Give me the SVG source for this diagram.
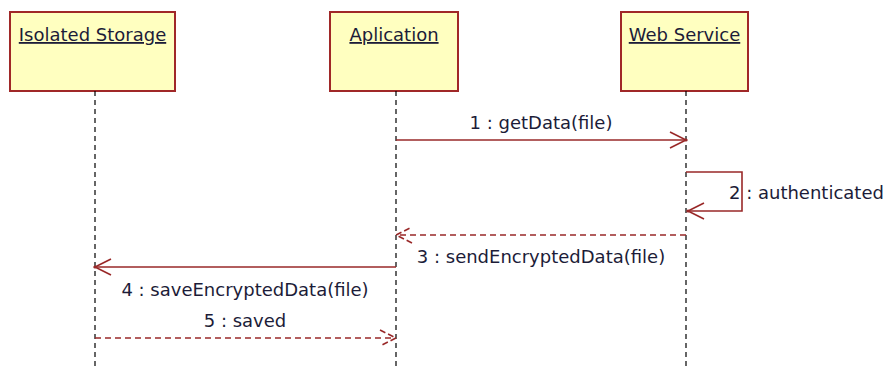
<svg xmlns="http://www.w3.org/2000/svg" width="884" height="370" viewBox="0 0 884 370">
<style>
.box{fill:#FFFFC0;stroke:#A02828;stroke-width:2}
.life{stroke:#000;stroke-width:1.2;stroke-dasharray:5 4;fill:none}
.title{font-family:"DejaVu Sans",sans-serif;font-size:18px;fill:#1c1c38;text-anchor:middle;text-decoration:underline}
.lbl{font-family:"DejaVu Sans",sans-serif;font-size:18px;fill:#1c1c38;text-anchor:middle}
.msg{stroke:#992828;stroke-width:1.6;fill:none}
.dash{stroke-dasharray:6 4}
</style>
<defs>
<marker id="open" viewBox="-18 -10 20 20" refX="0" refY="0" markerWidth="20" markerHeight="20" markerUnits="userSpaceOnUse" orient="auto">
<path d="M-16,-8 L0,0 L-16,8" fill="none" stroke="#992828" stroke-width="1.6"/>
<circle cx="0" cy="0" r="1.6" fill="#992828"/>
</marker>
<marker id="opend" viewBox="-18 -10 20 20" refX="0" refY="0" markerWidth="20" markerHeight="20" markerUnits="userSpaceOnUse" orient="auto">
<path d="M-16,-8 L0,0 L-16,8" fill="none" stroke="#992828" stroke-width="1.6" stroke-dasharray="6 3"/>
</marker>
</defs>
<g id="isolated-storage">
<rect class="box" x="10" y="12" width="165" height="79"/>
<line class="life" x1="95" y1="91" x2="95" y2="370"/>
<text class="title" x="92.5" y="41">Isolated Storage</text>
</g>
<g id="aplication">
<rect class="box" x="330" y="12" width="128" height="79"/>
<line class="life" x1="396" y1="91" x2="396" y2="370"/>
<text class="title" x="394" y="41">Aplication</text>
</g>
<g id="web-service">
<rect class="box" x="621" y="12" width="127" height="79"/>
<line class="life" x1="686" y1="91" x2="686" y2="370"/>
<text class="title" x="684.5" y="41">Web Service</text>
</g>
<g id="connectors">
<line class="msg" x1="396" y1="140" x2="686" y2="140" marker-end="url(#open)"/>
<text class="lbl" x="541" y="129">1 : getData(file)</text>
<polyline class="msg" points="686,172 742,172 742,211 688,211" marker-end="url(#open)"/>
<text class="lbl" x="729" y="199" style="text-anchor:start">2 : authenticated</text>
<line class="msg dash" x1="686" y1="235" x2="396" y2="235" marker-end="url(#opend)"/>
<text class="lbl" x="541" y="263">3 : sendEncryptedData(file)</text>
<line class="msg" x1="396" y1="267" x2="95" y2="267" marker-end="url(#open)"/>
<text class="lbl" x="245" y="296">4 : saveEncryptedData(file)</text>
<line class="msg dash" x1="95" y1="338" x2="396" y2="338" marker-end="url(#opend)"/>
<text class="lbl" x="245" y="327">5 : saved</text>
</g>
</svg>
